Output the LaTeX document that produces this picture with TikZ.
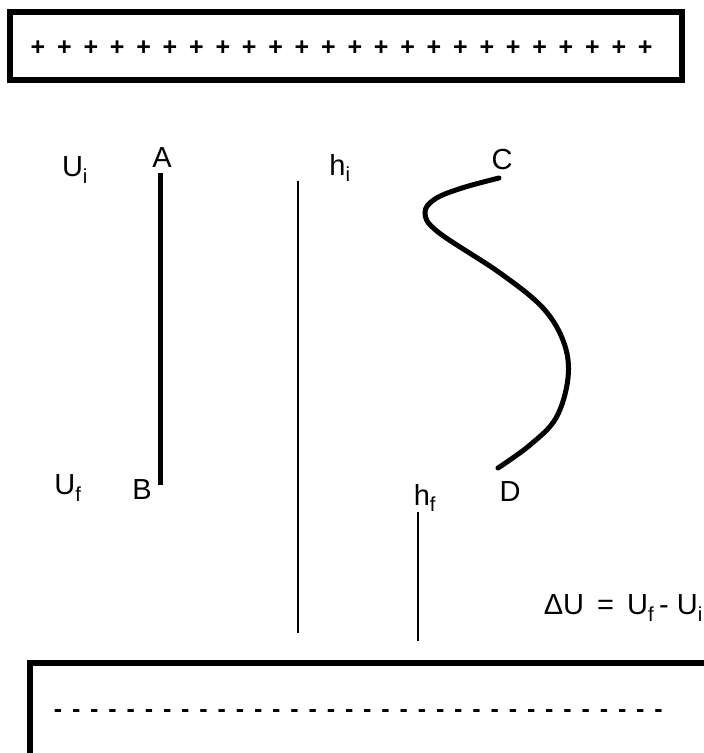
\documentclass[tikz,border=0pt]{standalone}
\usepackage{fontspec}
\setmainfont{Liberation Sans}
\begin{document}
\begin{tikzpicture}[x=1pt,y=-1pt,
  lbl/.style={inner sep=0pt, font=\fontsize{29}{33}\selectfont},
  chg/.style={inner sep=0pt, font=\fontsize{25}{28}\selectfont\bfseries},
  plate/.style={draw=black, line width=5.5pt},
  wire/.style={draw=black, line width=5pt},
  thin/.style={draw=black, line width=1.3pt}]
\useasboundingbox (0,0) rectangle (704,753);
% plates
\draw[plate] (10,12) rectangle (682,80);
\draw[plate] (30,663) rectangle (730,790);
\foreach \i in {0,...,23} {\node[chg] (p\i) at (38+\i*26.4,48) {+};}
\foreach \i in {0,...,33} {\node[chg] (m\i) at (58+\i*18.2,714) {-};}
% straight path A-B
\coordinate (Atop) at (160,173);
\coordinate (Bbot) at (160,485);
\draw[wire] (Atop) -- (Bbot);
% height lines
\coordinate (hi1) at (298,181);
\coordinate (hi2) at (298,633);
\coordinate (hf1) at (418,512);
\coordinate (hf2) at (418,641);
\draw[thin] (hi1) -- (hi2);
\draw[thin] (hf1) -- (hf2);
% curved path C-D
\draw[line width=5pt, line cap=round] plot[smooth, tension=0.6] coordinates {(499,178) (462,188) (435,199) (425,213) (438,232) (500,273) (543,308) (564,343) (568,378) (556,418) (530,445) (498,468)};
% labels
\node[lbl] (Ui) at (75,170) {U\textsubscript{i}};
\node[lbl] (A) at (162,158) {A};
\node[lbl] (hi) at (340,168) {h\textsubscript{i}};
\node[lbl] (C) at (502,160) {C};
\node[lbl] (Uf) at (68,488) {U\textsubscript{f}};
\node[lbl] (B) at (142,490) {B};
\node[lbl] (hf) at (425,498) {h\textsubscript{f}};
\node[lbl] (D) at (510,492) {D};
\node[lbl, anchor=east] (dU) at (703,608) {ΔU\hspace{5pt} =\hspace{5pt} U\textsubscript{f}\,- U\textsubscript{i}};
\end{tikzpicture}
\end{document}
